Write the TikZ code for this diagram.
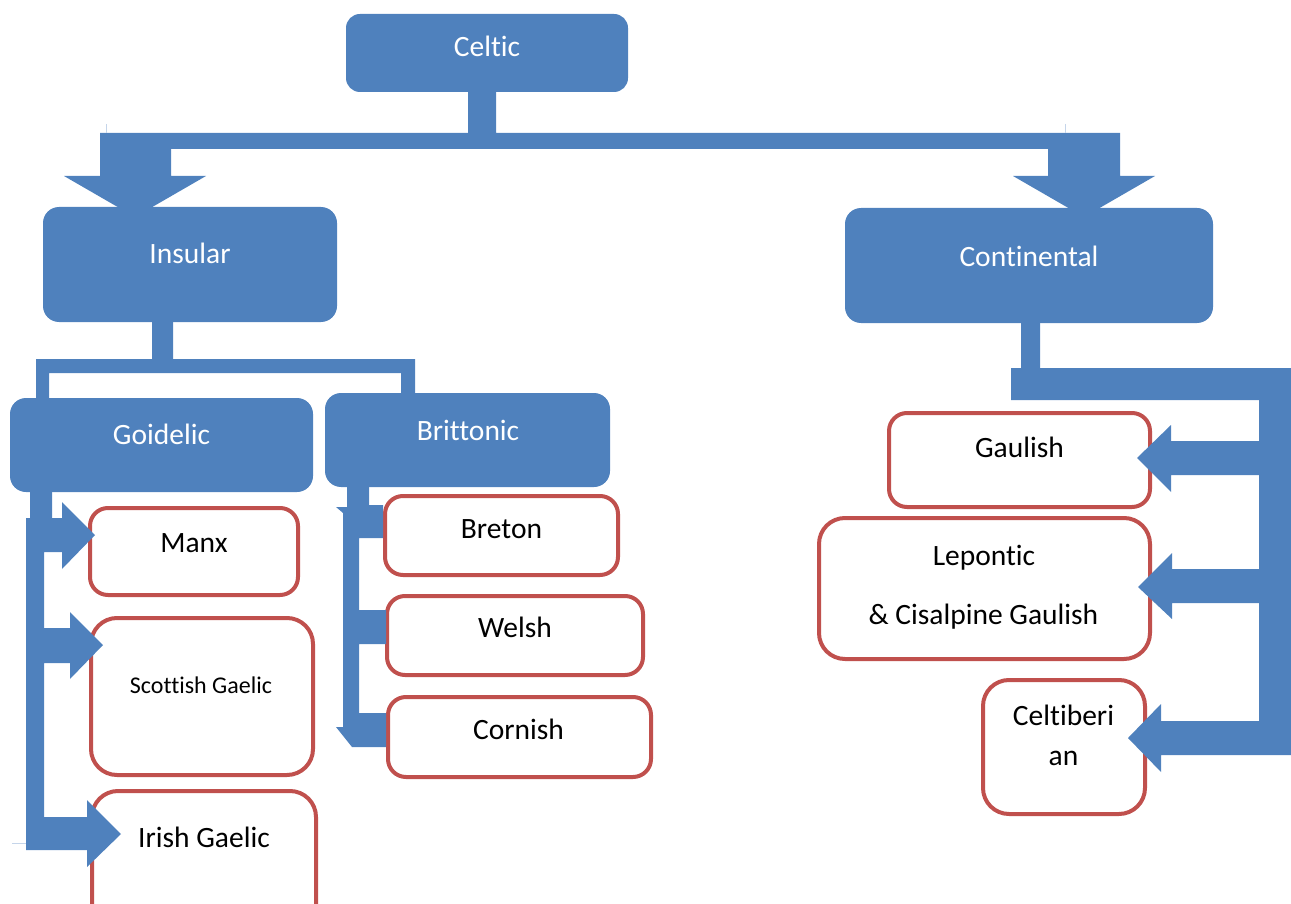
\documentclass[tikz,border=0pt]{standalone}
\usepackage{fontspec}
\setmainfont{Carlito}[RawFeature={-liga;-clig;-dlig;-calt}]
\definecolor{boxblue}{HTML}{4F81BD}
\definecolor{boxred}{HTML}{C0504D}
\definecolor{hairline}{HTML}{C5D5EA}
\tikzset{
  groupbox/.style={fill=boxblue, rounded corners=16pt, inner sep=0pt},
  langbox/.style={draw=boxred, line width=4pt, fill=white, rounded corners=18pt, inner sep=0pt},
  blockarrow/.style={fill=boxblue},
  txt/.style={font=\fontsize{29.5}{36}\selectfont, anchor=base, inner sep=0pt},
  wtxt/.style={txt, text=white},
  smalltxt/.style={font=\fontsize{24}{29}\selectfont, anchor=base, inner sep=0pt},
}
\begin{document}
\begin{tikzpicture}[x=1pt, y=-1pt]
\useasboundingbox (0,0) rectangle (1291,904);
\clip (0,0) rectangle (1291,904);

% language boxes
\node[langbox, minimum width=208pt, minimum height=87pt] (manx) at (194,551.5) {};
\node[langbox, rounded corners=26pt, minimum width=222pt, minimum height=157pt] (scottish) at (202,696.5) {};
\node[langbox, rounded corners=26pt, minimum width=224pt, minimum height=167pt] (irish) at (204,874.5) {};
\node[langbox, minimum width=233pt, minimum height=79pt] (breton) at (501.5,535.5) {};
\node[langbox, minimum width=256pt, minimum height=79pt] (welsh) at (515,635.5) {};
\node[langbox, minimum width=263pt, minimum height=80pt] (cornish) at (519.5,737) {};
\node[langbox, minimum width=261pt, minimum height=94pt] (gaulish) at (1019.5,460) {};
\node[langbox, rounded corners=26pt, minimum width=331pt, minimum height=141pt] (lepontic) at (984.5,588.5) {};
\node[langbox, rounded corners=26pt, minimum width=162pt, minimum height=134pt] (celtiberian) at (1064,747) {};

% Celtic -> Insular / Continental
\fill[blockarrow] (468,90) -- (496,90) -- (496,133) -- (1120,133) -- (1120,176) -- (1155,176)
  -- (1084,217) -- (1013,176) -- (1048,176) -- (1048,149) -- (171,149) -- (171,176)
  -- (206,176) -- (135,217) -- (64,176) -- (100,176) -- (100,133) -- (468,133) -- cycle;
\draw[hairline, line width=1pt] (106,124) -- (106,133);
\draw[hairline, line width=1pt] (1065,124) -- (1065,133);

% Insular -> Goidelic / Brittonic
\fill[blockarrow] (152,320) -- (173,320) -- (173,359) -- (415,359) -- (415,395) -- (401,395)
  -- (401,373) -- (49,373) -- (49,400) -- (36,400) -- (36,359) -- (152,359) -- cycle;

% Goidelic -> Manx, Scottish Gaelic, Irish Gaelic
\fill[blockarrow] (30,490) -- (52,490) -- (52,518) -- (62,518) -- (62,502) -- (95,535)
  -- (62,569) -- (62,552) -- (44,552) -- (44,628) -- (70,628) -- (70,612) -- (103,645)
  -- (70,679) -- (70,663) -- (44,663) -- (44,817) -- (87,817) -- (87,800) -- (121,834)
  -- (87,867) -- (87,850) -- (26,850) -- (26,518) -- (30,518) -- cycle;
\draw[hairline, line width=1pt] (12,843) -- (26,843);

% Brittonic -> Breton, Welsh, Cornish
\fill[blockarrow] (347,485) -- (369,485) -- (369,505) -- (383,505) -- (383,538) -- (359,538)
  -- (359,610) -- (386,610) -- (386,644) -- (359,644) -- (359,713) -- (386,713)
  -- (386,747) -- (352,747) -- (336,727) -- (343,727) -- (343,513) -- (336,507)
  -- (347,507) -- cycle;

% Continental -> Gaulish, Lepontic, Celtiberian
\fill[blockarrow] (1021,321) -- (1040,321) -- (1040,368) -- (1291,368) -- (1291,755)
  -- (1161,755) -- (1161,772) -- (1128,738) -- (1161,704) -- (1161,721) -- (1259,721)
  -- (1259,603) -- (1172,603) -- (1172,619) -- (1138,587) -- (1172,553) -- (1172,569)
  -- (1259,569) -- (1259,475) -- (1171,475) -- (1171,492) -- (1137,458) -- (1171,425)
  -- (1171,441) -- (1259,441) -- (1259,400) -- (1011,400) -- (1011,368) -- (1021,368) -- cycle;

% group boxes
\node[groupbox, rounded corners=14pt, minimum width=282pt, minimum height=78pt] (celtic) at (487,53) {};
\node[groupbox, minimum width=294pt, minimum height=115pt] (insular) at (190,264.5) {};
\node[groupbox, minimum width=368pt, minimum height=115pt] (continental) at (1029,265.5) {};
\node[groupbox, minimum width=303pt, minimum height=94pt] (goidelic) at (161.5,445) {};
\node[groupbox, minimum width=285pt, minimum height=94pt] (brittonic) at (467.5,440) {};

% labels
\node[wtxt] (celtic-t) at (487,57) {Celtic};
\node[wtxt] (insular-t) at (190,264) {Insular};
\node[wtxt] (continental-t) at (1029,266) {Continental};
\node[wtxt] (goidelic-t) at (161.5,444) {Goidelic};
\node[wtxt] (brittonic-t) at (468,440) {Brittonic};
\node[txt] (manx-t) at (194,552) {Manx};
\node[smalltxt] (scottish-t) at (201,693) {Scottish Gaelic};
\node[txt] (irish-t) at (204,847) {Irish Gaelic};
\node[txt] (breton-t) at (501.5,538) {Breton};
\node[txt] (welsh-t) at (515,637) {Welsh};
\node[txt] (cornish-t) at (518.5,739) {Cornish};
\node[txt] (gaulish-t) at (1019.5,457) {Gaulish};
\node[txt] (lepontic-t1) at (984,565) {Lepontic};
\node[txt] (lepontic-t2) at (983.5,624) {\& Cisalpine Gaulish};
\node[txt] (celtiberian-t1) at (1063.5,725) {Celtiberi};
\node[txt] (celtiberian-t2) at (1063.5,765) {an};
\end{tikzpicture}
\end{document}
